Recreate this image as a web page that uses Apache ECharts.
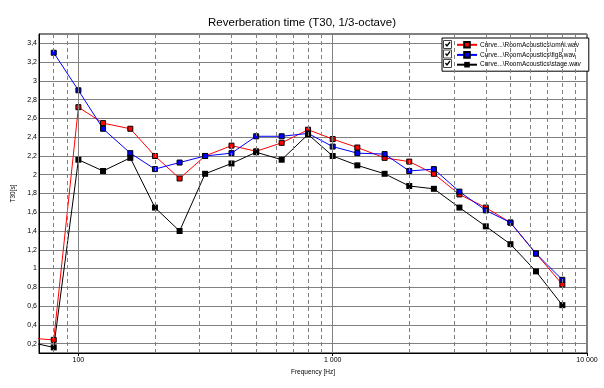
<!DOCTYPE html>
<html>
<head>
<meta charset="utf-8">
<script src="https://cdn.jsdelivr.net/npm/echarts@6/dist/echarts.min.js"></script>
<style>html,body{margin:0;padding:0;background:#fff}#c{width:604px;height:388px}</style>
</head>
<body>
<div id="c"></div>
<script>
var frequencies = [63, 80, 100, 125, 160, 200, 250, 315, 400, 500, 630, 800, 1000, 1250, 1600, 2000, 2500, 3150, 4000, 5000, 6300, 8000];
var omni  = [0.26, 0.24, 2.72, 2.55, 2.49, 2.20, 1.96, 2.20, 2.31, 2.25, 2.34, 2.48, 2.38, 2.29, 2.18, 2.14, 2.01, 1.79, 1.65, 1.49, 1.16, 0.83];
var fig8  = [null, 3.30, 2.90, 2.49, 2.23, 2.06, 2.13, 2.20, 2.23, 2.41, 2.41, 2.44, 2.30, 2.23, 2.22, 2.04, 2.06, 1.82, 1.62, 1.49, 1.16, 0.88];
var stage = [0.22, 0.16, 2.16, 2.04, 2.18, 1.65, 1.40, 2.01, 2.12, 2.24, 2.16, 2.43, 2.20, 2.10, 2.01, 1.88, 1.85, 1.65, 1.45, 1.26, 0.97, 0.61];
var seriesNames = ['Curve...\\RoomAcoustics\\omni.wav', 'Curve...\\RoomAcoustics\\fig8.wav', 'Curve...\\RoomAcoustics\\stage.wav'];
var xTickLabels = [100, 1000, 10000];
var minorGridFreqs = [80, 90, 200, 300, 400, 500, 600, 700, 800, 900, 2000, 3000, 4000, 5000, 6000, 7000, 8000, 9000];
var majorGridFreqs = [100, 1000];

function pairs(vals) {
  return frequencies.map(function (f, i) { return [f, vals[i]]; });
}
var FONT = 'Liberation Sans';
var chart = echarts.init(document.getElementById('c'), null, {renderer: 'canvas'});

function mkSeries(name, vals, color, size, border) {
  return {
    name: name, type: 'line', data: pairs(vals), clip: true,
    symbol: 'rect', symbolSize: size, showSymbol: true,
    lineStyle: {color: color, width: 1},
    itemStyle: {color: color, borderColor: border ? '#000' : color, borderWidth: border ? 1 : 0},
    emphasis: {disabled: true}, animation: false, z: 3
  };
}

var checkGraphics = [];
[44.5, 54, 63.5].forEach(function (cy) {
  checkGraphics.push({type: 'rect', shape: {x: 443.5, y: cy - 4, width: 8, height: 8},
    style: {fill: '#fff', stroke: '#444', lineWidth: 1}, z: 100});
  checkGraphics.push({type: 'polyline', shape: {points: [[445.5, cy - 0.5], [447, cy + 1.5], [450, cy - 2.5]]},
    style: {stroke: '#000', lineWidth: 1.3, fill: null}, z: 101});
});

chart.setOption({
  animation: false,
  backgroundColor: '#fff',
  title: {
    text: 'Reverberation time (T30, 1/3-octave)', left: 'center', top: 17, padding: 0,
    textStyle: {fontFamily: FONT, fontSize: 11.5, fontWeight: 'normal', color: '#000'}
  },
  grid: {left: 39, right: 17, top: 34, bottom: 35, show: true, borderColor: '#000', borderWidth: 1, backgroundColor: 'transparent'},
  legend: {
    data: seriesNames, orient: 'vertical', left: 442, top: 38,
    padding: [3, 8, 3, 14], itemWidth: 20, itemHeight: 7, itemGap: 2.5,
    backgroundColor: '#fff', borderColor: '#000', borderWidth: 1, borderRadius: 0,
    selectedMode: false,
    textStyle: {fontFamily: FONT, fontSize: 6.5, color: '#000', padding: [0, 0, 0, -2]}
  },
  graphic: checkGraphics,
  xAxis: {
    type: 'log', logBase: 10, min: 70, max: 10000,
    name: 'Frequency [Hz]', nameLocation: 'middle', nameGap: 12,
    nameTextStyle: {fontFamily: FONT, fontSize: 6.5, color: '#000'},
    axisLine: {show: true, lineStyle: {color: '#000', width: 1}},
    axisTick: {show: true, length: 3, customValues: xTickLabels, lineStyle: {color: '#000'}},
    axisLabel: {customValues: xTickLabels, margin: 4, fontFamily: FONT, fontSize: 7, color: '#000',
      formatter: function (v) { return String(Math.round(v)).replace(/\B(?=(\d{3})+(?!\d))/g, ' '); }},
    splitLine: {show: false}
  },
  yAxis: {
    type: 'value', min: 0.1, max: 3.5, splitNumber: 17,
    name: 'T30[s]', nameLocation: 'middle', nameGap: 14,
    nameTextStyle: {fontFamily: FONT, fontSize: 6.5, color: '#000'},
    axisLine: {show: true, lineStyle: {color: '#000', width: 1}},
    axisTick: {show: false},
    axisLabel: {showMinLabel: false, showMaxLabel: false, margin: 2, fontFamily: FONT, fontSize: 7, color: '#000',
      formatter: function (v) { return String(Math.round(v * 10) / 10).replace('.', ','); }},
    splitLine: {show: true, lineStyle: {color: '#808080', width: 1}}
  },
  series: [
    {
      type: 'line', data: [], silent: true, z: 1, animation: false,
      markLine: {
        silent: true, symbol: ['none', 'none'], label: {show: false}, animation: false,
        data: minorGridFreqs.map(function (f) { return {xAxis: f, lineStyle: {color: '#808080', type: [4, 3], width: 1}}; })
          .concat(majorGridFreqs.map(function (f) { return {xAxis: f, lineStyle: {color: '#808080', type: 'solid', width: 1}}; }))
      }
    },
    mkSeries(seriesNames[0], omni, '#ff0000', 5, true),
    mkSeries(seriesNames[1], fig8, '#0000ff', 5, true),
    mkSeries(seriesNames[2], stage, '#000000', 6, false)
  ]
});
</script>
</body>
</html>
